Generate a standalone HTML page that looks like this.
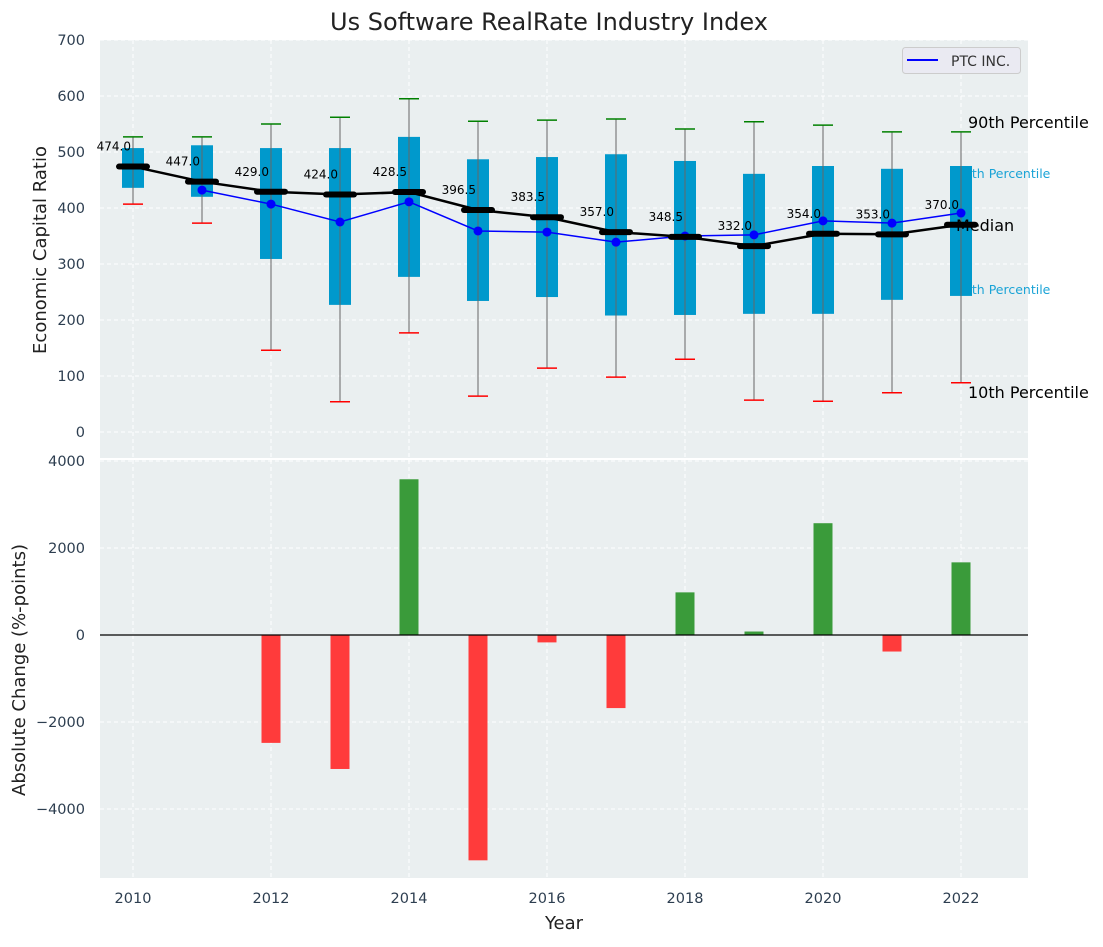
<!DOCTYPE html>
<html><head><meta charset="utf-8"><style>
body{margin:0;background:#fff;}
svg text{font-family:"DejaVu Sans","Liberation Sans",sans-serif;}
</style></head><body>
<svg id="c" width="1103" height="942" xmlns="http://www.w3.org/2000/svg">
<rect x="100" y="40" width="928" height="418" fill="#eaeff0"/>
<rect x="100" y="460" width="928" height="418" fill="#eaeff0"/>
<g id="grid"></g>
<g id="marks"></g>
<text x="549" y="30" font-size="24" text-anchor="middle" fill="#222">Us Software RealRate Industry Index</text>
<text x="46" y="250" font-size="18" text-anchor="middle" fill="#222" transform="rotate(-90 46 250)">Economic Capital Ratio</text>
<text x="25" y="670" font-size="18" text-anchor="middle" fill="#222" transform="rotate(-90 25 670)">Absolute Change (%-points)</text>
<text x="564" y="929" font-size="18" text-anchor="middle" fill="#222">Year</text>
<g>
<rect x="902.5" y="47.5" width="118" height="26" rx="3" fill="#eaeaf2" stroke="#ccc"/>
<line x1="907" y1="60" x2="938" y2="60" stroke="#0000ff" stroke-width="2"/>
<text x="951" y="66" font-size="14" fill="#333">PTC INC.</text>
</g>
</svg>
<script>
const years=[2010,2011,2012,2013,2014,2015,2016,2017,2018,2019,2020,2021,2022];
const p90=[527,527,550,562,595,555,557,559,541,554,548,536,536];
const p75=[507,512,507,507,527,487,491,496,484,461,475,470,475];
const p25=[436,420,309,227,277,234,241,208,209,211,211,236,243];
const p10=[407,373,146,54,177,64,114,98,130,57,55,70,88];
const medians=[474.0,447.0,429.0,424.0,428.5,396.5,383.5,357.0,348.5,332.0,354.0,353.0,370.0];
const ptc=[null,432,407,375,411,359,357,339,350,352,377,373,391];
const changes=[null,null,-2480,-3080,3580,-5180,-170,-1680,980,80,2570,-380,1670];
const topTicks=[0,100,200,300,400,500,600,700];
const botTicks=[-4000,-2000,0,2000,4000];
const xTicks=[2010,2012,2014,2016,2018,2020,2022];

const NS="http://www.w3.org/2000/svg";
const X=y=>133+(y-2010)*69;
const YT=v=>432-v*0.56;
const YB=v=>635-v*0.0435;
const G=document.getElementById('grid'), M=document.getElementById('marks');
function mk(tag,attrs,parent){const e=document.createElementNS(NS,tag);for(const k in attrs)e.setAttribute(k,attrs[k]);(parent||M).appendChild(e);return e;}

topTicks.forEach(t=>{
 const l=mk('line',{x1:100,x2:1028,y1:YT(t),y2:YT(t),stroke:'#fff','stroke-dasharray':'4 3','stroke-width':1},G);
 
 
 const tx=mk('text',{x:85,y:YT(t)+5,'font-size':14.5,'text-anchor':'end',fill:'#2d3e50'},G);
 tx.textContent=t;
 
 
});
botTicks.forEach(t=>{
 const l=mk('line',{x1:100,x2:1028,y1:YB(t),y2:YB(t),stroke:'#fff','stroke-dasharray':'4 3','stroke-width':1},G);
 
 
 const tx=mk('text',{x:85,y:YB(t)+5,'font-size':14.5,'text-anchor':'end',fill:'#2d3e50'},G);
 tx.textContent=t<0?'\u2212'+(-t):t;
 
 
});
xTicks.forEach(t=>{
 [[40,458],[460,878]].forEach(r=>{
  const l=mk('line',{x1:X(t),x2:X(t),y1:r[0],y2:r[1],stroke:'#fff','stroke-dasharray':'4 3','stroke-width':1},G);
  
  
 });
 const tx=mk('text',{x:X(t),y:903,'font-size':14.5,'text-anchor':'middle',fill:'#2d3e50'},G);
 tx.textContent=t;
 
 
});

[['75th Percentile',956,178,'#1aa3d6',12.5,'annot-75th'],['25th Percentile',956,294,'#1aa3d6',12.5,'annot-25th']].forEach(a=>{
 const t=mk('text',{x:a[1],y:a[2],'font-size':a[4],fill:a[3]});t.textContent=a[0];
 
 
});

years.forEach((y,i)=>{
 const cx=X(y);
 const b=mk('rect',{x:cx-11,y:YT(p75[i]),width:22,height:YT(p25[i])-YT(p75[i]),fill:'#0099cc'});
 
 
 const w=mk('line',{x1:cx,x2:cx,y1:YT(p90[i]),y2:YT(p10[i]),stroke:'#666','stroke-width':1});
 
 
 const h=mk('line',{x1:cx-10,x2:cx+10,y1:YT(p90[i]),y2:YT(p90[i]),stroke:'#008000','stroke-width':1.5});
 
 
 const l=mk('line',{x1:cx-10,x2:cx+10,y1:YT(p10[i]),y2:YT(p10[i]),stroke:'#ff0000','stroke-width':1.5});
 
 
});
let pts=[];years.forEach((y,i)=>{if(ptc[i]!=null)pts.push(X(y)+','+YT(ptc[i]));});
const pl=mk('polyline',{points:pts.join(' '),fill:'none',stroke:'#0000ff','stroke-width':1.5});


years.forEach((y,i)=>{if(ptc[i]==null)return;
 const c=mk('circle',{cx:X(y),cy:YT(ptc[i]),r:4.5,fill:'#0000ff'});
 
 
});
const ml=mk('polyline',{points:years.map((y,i)=>X(y)+','+YT(medians[i])).join(' '),fill:'none',stroke:'#000','stroke-width':2.5});


years.forEach((y,i)=>{
 const m=mk('line',{x1:X(y)-14,x2:X(y)+14,y1:YT(medians[i]),y2:YT(medians[i]),stroke:'#000','stroke-width':6,'stroke-linecap':'round'});
 
 
 const t=mk('text',{x:X(y)-2,y:YT(medians[i])-16,'font-size':12,'text-anchor':'end',fill:'#000'});
 t.textContent=medians[i].toFixed(1);
 
 
});
[['90th Percentile',968,128,'#000',16,'annot-90th'],['Median',956,231,'#000',16,'annot-median'],['10th Percentile',968,398,'#000',16,'annot-10th']].forEach(a=>{
 const t=mk('text',{x:a[1],y:a[2],'font-size':a[4],fill:a[3]});t.textContent=a[0];
 
 
});
years.forEach((y,i)=>{const v=changes[i];if(v==null)return;
 const y0=YB(0),y1=YB(v);
 const r=mk('rect',{x:X(y)-9.5,y:Math.min(y0,y1),width:19,height:Math.abs(y1-y0),fill:v>=0?'#3a9b3a':'#ff3b3b'});
 
 
});
const z=mk('line',{x1:100,x2:1028,y1:YB(0),y2:YB(0),stroke:'#000','stroke-width':1.2});


</script>
</body></html>
